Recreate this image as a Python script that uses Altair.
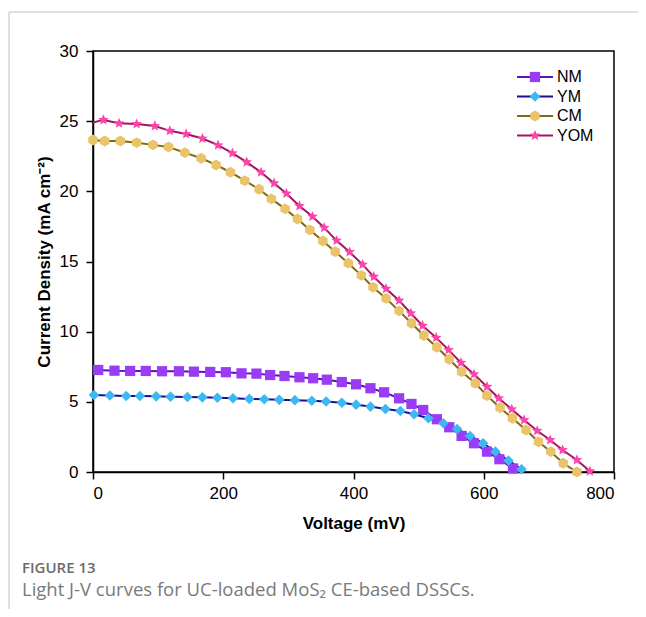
import altair as alt
import pandas as pd

SERIES = ["NM", "YM", "CM", "YOM"]

NM_V = [8, 33, 57, 81, 106, 132, 155, 180, 204, 228, 251, 272, 294, 317, 338, 359, 382, 404, 426, 447, 470, 489, 507, 528, 547, 566, 585, 605, 624, 645]
NM_J = [7.27, 7.22, 7.20, 7.20, 7.18, 7.18, 7.15, 7.13, 7.11, 7.03, 7.01, 6.91, 6.84, 6.75, 6.68, 6.58, 6.41, 6.25, 5.97, 5.68, 5.25, 4.85, 4.42, 3.76, 3.19, 2.57, 2.05, 1.45, 0.91, 0.25]

YM_V = [1.5, 26, 51, 72, 97, 119, 145, 168, 191, 215, 240, 263, 286, 310, 336, 358, 382, 404, 426, 449, 472, 493, 515, 538, 559, 579, 599, 618, 638, 658]
YM_J = [5.49, 5.45, 5.42, 5.41, 5.39, 5.37, 5.35, 5.32, 5.29, 5.25, 5.21, 5.18, 5.14, 5.12, 5.08, 5.03, 4.93, 4.80, 4.66, 4.49, 4.35, 4.11, 3.83, 3.47, 3.06, 2.57, 2.05, 1.45, 0.81, 0.19]

CM_V = [0, 18, 42, 67, 92, 116, 141, 166, 189, 211, 233, 255, 274, 295, 314, 333, 353, 372, 392, 412, 430, 450, 470, 489, 508, 528, 547, 566, 587, 605, 625, 644, 665, 684, 703, 722, 743]
CM_J = [23.66, 23.59, 23.59, 23.47, 23.31, 23.16, 22.76, 22.36, 21.88, 21.36, 20.76, 20.15, 19.46, 18.75, 18.03, 17.25, 16.46, 15.70, 14.88, 14.01, 13.16, 12.37, 11.48, 10.60, 9.73, 8.89, 8.03, 7.15, 6.32, 5.44, 4.58, 3.83, 2.99, 2.16, 1.45, 0.62, 0.0]

YOM_V = [0, 16, 40, 67, 95, 118, 143, 168, 192, 214, 236, 258, 278, 297, 317, 337, 355, 374, 394, 414, 431, 450, 470, 488, 506, 527, 546, 565, 585, 605, 623, 643, 662, 682, 702, 721, 743, 763]
YOM_J = [24.90, 25.09, 24.85, 24.80, 24.66, 24.31, 24.09, 23.76, 23.29, 22.72, 22.08, 21.36, 20.58, 19.84, 18.96, 18.20, 17.41, 16.49, 15.67, 14.78, 13.92, 13.06, 12.22, 11.31, 10.43, 9.57, 8.70, 7.79, 6.96, 6.08, 5.25, 4.47, 3.71, 2.94, 2.28, 1.57, 0.86, 0.05]

X_TICKS = [0, 200, 400, 600, 800]
Y_TICKS = [0, 5, 10, 15, 20, 25, 30]

CAPTION_HEAD = ["FIGURE 13"]
CAPTION_BODY = ["Light J-V curves for UC-loaded MoS₂ CE-based DSSCs."]

LINE_COLORS = ["#5a14b4", "#1a0f8f", "#7d6a12", "#a3165e"]
FILL_COLORS = ["#9a3cf5", "#3db8f3", "#eac36a", "#fb45ac"]
STAR = "M0,-1L0.2645,-0.3641L0.9511,-0.309L0.428,0.139L0.5878,0.809L0,0.45L-0.5878,0.809L-0.428,0.139L-0.9511,-0.309L-0.2645,-0.3641Z"
HEX = "M0,-1L0.866,-0.5L0.866,0.5L0,1L-0.866,0.5L-0.866,-0.5Z"
SHAPES = ["square", "diamond", HEX, STAR]
SIZES = [105, 125, 130, 175]

rows = []
for name, vs, js in [("NM", NM_V, NM_J), ("YM", YM_V, YM_J), ("CM", CM_V, CM_J), ("YOM", YOM_V, YOM_J)]:
    for i, (v, j) in enumerate(zip(vs, js)):
        rows.append({"series": name, "V": v, "J": j, "idx": i,
                     "marker": not (name == "YOM" and i == 0)})
df = pd.DataFrame(rows)
leg_df = pd.DataFrame({"series": SERIES, "rank": list(range(len(SERIES)))})

color_scale = alt.Scale(domain=SERIES, range=LINE_COLORS)
fill_scale = alt.Scale(domain=SERIES, range=FILL_COLORS)
shape_scale = alt.Scale(domain=SERIES, range=SHAPES)
size_scale = alt.Scale(domain=SERIES, range=SIZES)

x_enc = alt.X("V:Q", scale=alt.Scale(domain=[0, 800], nice=False),
              axis=alt.Axis(values=X_TICKS, title="Voltage (mV)", titlePadding=14, labelPadding=6))
y_enc = alt.Y("J:Q", scale=alt.Scale(domain=[0, 30], nice=False),
              axis=alt.Axis(values=Y_TICKS, title="Current Density (mA cm⁻²)", titlePadding=6, labelPadding=8))

lines = alt.Chart(df).mark_line(strokeWidth=2).encode(
    x=x_enc, y=y_enc,
    color=alt.Color("series:N", scale=color_scale, legend=None),
    detail="series:N", order="idx:Q",
)
points = alt.Chart(df).transform_filter("datum.marker").mark_point(filled=True, opacity=1).encode(
    x="V:Q", y="J:Q",
    fill=alt.Fill("series:N", scale=fill_scale, legend=None),
    shape=alt.Shape("series:N", scale=shape_scale, legend=None),
    size=alt.Size("series:N", scale=size_scale, legend=None),
)
main = alt.layer(lines, points)

leg_y = alt.Y("rank:Q", scale=alt.Scale(domain=[0, 3], range=[26, 84.5], nice=False, zero=False), axis=None)
leg_line = alt.Chart(leg_df).mark_rule(strokeWidth=2).encode(
    x=alt.value(424), x2=alt.value(460), y=leg_y,
    color=alt.Color("series:N", scale=color_scale, legend=None),
)
leg_pt = alt.Chart(leg_df).mark_point(filled=True, opacity=1).encode(
    x=alt.value(442), y=leg_y,
    fill=alt.Fill("series:N", scale=fill_scale, legend=None),
    shape=alt.Shape("series:N", scale=shape_scale, legend=None),
    size=alt.Size("series:N", scale=size_scale, legend=None),
)
leg_txt = alt.Chart(leg_df).mark_text(align="left", baseline="middle", fontSize=16,
                                      font="Liberation Sans", color="black").encode(
    x=alt.value(464), y=leg_y, text="series:N",
)
legend = alt.layer(leg_line, leg_pt, leg_txt)

deco_df = pd.DataFrame({"a": [0]})
top_line = alt.Chart(deco_df).mark_rule(color="#d6d6d6", strokeWidth=1.5).encode(
    x=alt.value(-84), x2=alt.value(560), y=alt.value(-39))
left_line = alt.Chart(deco_df).mark_rule(color="#d6d6d6", strokeWidth=1.5).encode(
    x=alt.value(-84), y=alt.value(-39), y2=alt.value(570))

cap1 = alt.Chart(pd.DataFrame({"t": CAPTION_HEAD})).mark_text(
    align="left", baseline="middle", font="Open Sans", fontSize=15, fontWeight=600, color="#6b6b6b"
).encode(x=alt.value(-71), y=alt.value(517), text="t:N")
cap2 = alt.Chart(pd.DataFrame({"t": CAPTION_BODY})).mark_text(
    align="left", baseline="middle", font="Open Sans", fontSize=18.5, color="#7a7a7a"
).encode(x=alt.value(-71), y=alt.value(539), text="t:N")
deco = alt.layer(top_line, left_line, cap1, cap2)

chart = alt.layer(deco, main, legend).resolve_scale(y="independent").properties(
    width=521, height=421,
    autosize=alt.AutoSizeParams(type="none"),
    padding={"left": 85, "top": 43, "right": 24, "bottom": 137},
).configure_axis(
    grid=False, domainColor="black", domainWidth=1.5, tickColor="black", tickWidth=1.5,
    tickSize=7, labelFont="Liberation Sans", labelFontSize=17, labelColor="black",
    titleFont="Liberation Sans", titleFontSize=17, titleFontWeight="bold", titleColor="black",
).configure_view(stroke="black", strokeWidth=1.5)

chart.save("out.html", embed_options={"renderer": "svg", "actions": False})
